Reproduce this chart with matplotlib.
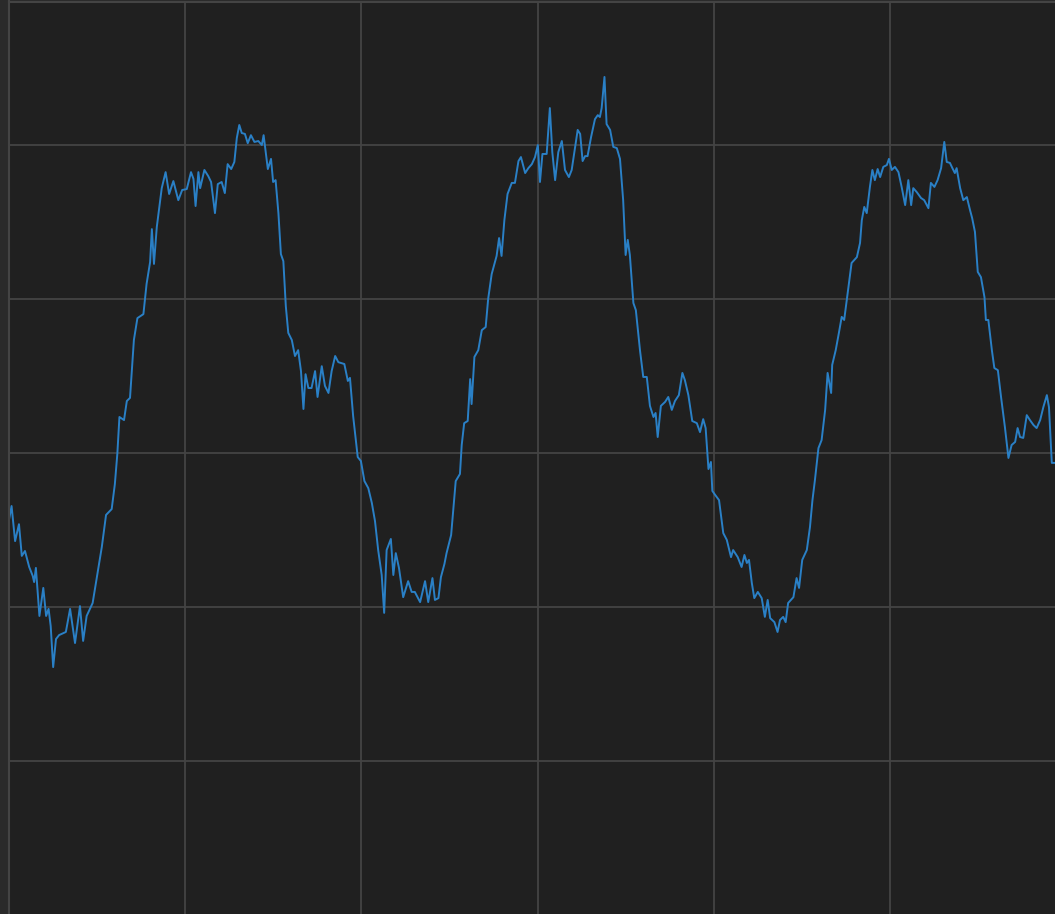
import matplotlib
matplotlib.use("Agg")
import matplotlib.pyplot as plt
from matplotlib.ticker import MultipleLocator

# Sampled signal: time (s) and amplitude
t = [
    0.000, 0.008, 0.018, 0.029, 0.037, 0.046, 0.058, 0.068, 0.072, 0.077,
    0.087, 0.098, 0.106, 0.113, 0.119, 0.126, 0.134, 0.143, 0.162, 0.174,
    0.188, 0.202, 0.211, 0.221, 0.238, 0.251, 0.264, 0.276, 0.292, 0.301,
    0.308, 0.314, 0.327, 0.335, 0.344, 0.355, 0.365, 0.382, 0.391, 0.401,
    0.406, 0.412, 0.420, 0.434, 0.445, 0.455, 0.467,
    0.481, 0.492, 0.505, 0.517, 0.524, 0.530, 0.538, 0.543, 0.555, 0.566,
    0.574, 0.585, 0.593, 0.604, 0.613, 0.621, 0.631, 0.640, 0.647, 0.654,
    0.661, 0.670, 0.678, 0.687, 0.697, 0.708, 0.718, 0.723, 0.735, 0.744,
    0.750, 0.757, 0.765, 0.772, 0.779, 0.786, 0.793, 0.803, 0.812, 0.821,
    0.829, 0.836, 0.842, 0.850, 0.859, 0.869, 0.876, 0.888, 0.897, 0.907,
    0.916, 0.926, 0.935, 0.952, 0.962, 0.968, 0.977, 0.990,
    0.999, 1.009, 1.020, 1.030, 1.039, 1.048, 1.058, 1.065, 1.072, 1.084,
    1.091, 1.098, 1.107, 1.119, 1.133, 1.143, 1.152, 1.167, 1.181, 1.190,
    1.202, 1.209, 1.219, 1.226, 1.236, 1.242, 1.255, 1.261, 1.268, 1.280,
    1.285, 1.292, 1.302, 1.309, 1.313, 1.321, 1.332, 1.342, 1.353, 1.360,
    1.370, 1.384, 1.391, 1.398, 1.406, 1.415, 1.427, 1.436, 1.446, 1.453,
    1.465, 1.474, 1.484, 1.493,
    1.501, 1.507, 1.514, 1.526, 1.535, 1.542, 1.550, 1.559, 1.569, 1.578,
    1.589, 1.597, 1.614, 1.621, 1.628, 1.635, 1.642, 1.652, 1.663, 1.671,
    1.677, 1.682, 1.690, 1.696, 1.706, 1.715, 1.725, 1.734, 1.743, 1.750,
    1.756, 1.762, 1.772, 1.779, 1.791, 1.800, 1.810, 1.819, 1.829, 1.835,
    1.841, 1.850, 1.862, 1.871, 1.881, 1.890, 1.901, 1.911, 1.918, 1.928,
    1.939, 1.952, 1.961, 1.970, 1.977, 1.985, 1.992, 1.996, 2.004,
    2.015, 2.027, 2.037, 2.049, 2.055, 2.068, 2.079, 2.087, 2.094, 2.100,
    2.108, 2.115, 2.125, 2.136, 2.145, 2.153, 2.160, 2.172, 2.181, 2.188,
    2.197, 2.204, 2.211, 2.226, 2.235, 2.242, 2.251, 2.264, 2.273, 2.280,
    2.287, 2.297, 2.306, 2.316, 2.323, 2.333, 2.336, 2.346, 2.355, 2.363,
    2.370, 2.382, 2.391, 2.406, 2.415, 2.420, 2.427, 2.434, 2.443, 2.450,
    2.457, 2.465, 2.472, 2.481, 2.491, 2.497, 2.505, 2.514,
    2.524, 2.533, 2.543, 2.552, 2.560, 2.566, 2.576, 2.588, 2.597, 2.609,
    2.616, 2.626, 2.635, 2.645, 2.654, 2.661, 2.670, 2.677, 2.684, 2.689,
    2.699, 2.708, 2.718, 2.727, 2.733, 2.741, 2.749, 2.758, 2.768, 2.772,
    2.779, 2.789, 2.796, 2.806, 2.815, 2.826, 2.836, 2.845, 2.855, 2.862,
    2.869, 2.878, 2.888, 2.897, 2.907, 2.916, 2.926, 2.935, 2.945, 2.951,
    2.959, 2.968,
]

amplitude = [
    -0.221, -0.172, -0.286, -0.231, -0.334, -0.318, -0.370, -0.399, -0.419, -0.373,
    -0.529, -0.438, -0.529, -0.506, -0.562, -0.695, -0.604, -0.591, -0.581, -0.506,
    -0.617, -0.497, -0.610, -0.529, -0.487, -0.396, -0.305, -0.201, -0.182, -0.101,
    -0.003, 0.117, 0.107, 0.169, 0.179, 0.367, 0.438, 0.451, 0.549, 0.620,
    0.727, 0.614, 0.734, 0.860, 0.912, 0.841, 0.883,
    0.821, 0.854, 0.857, 0.912, 0.890, 0.802, 0.912, 0.860, 0.919, 0.899,
    0.880, 0.779, 0.873, 0.880, 0.844, 0.938, 0.922, 0.945, 1.023, 1.065,
    1.039, 1.036, 1.006, 1.032, 1.010, 1.013, 1.000, 1.032, 0.922, 0.955,
    0.880, 0.886, 0.779, 0.646, 0.623, 0.477, 0.390, 0.367, 0.315, 0.334,
    0.266, 0.143, 0.256, 0.211, 0.211, 0.266, 0.182, 0.282, 0.218, 0.195,
    0.266, 0.315, 0.295, 0.289, 0.234, 0.244, 0.120, -0.013,
    -0.026, -0.091, -0.114, -0.162, -0.221, -0.315, -0.396, -0.519, -0.315, -0.279,
    -0.396, -0.325, -0.373, -0.468, -0.416, -0.451, -0.451, -0.484, -0.416, -0.484,
    -0.406, -0.477, -0.471, -0.403, -0.360, -0.325, -0.266, -0.185, -0.091, -0.068,
    0.026, 0.097, 0.104, 0.240, 0.159, 0.312, 0.334, 0.399, 0.409, 0.500,
    0.581, 0.640, 0.698, 0.640, 0.756, 0.841, 0.877, 0.877, 0.948, 0.961,
    0.909, 0.925, 0.938, 0.961,
    1.000, 0.880, 0.971, 0.971, 1.120, 0.977, 0.886, 0.977, 1.013, 0.919,
    0.896, 0.919, 1.049, 1.036, 0.948, 0.964, 0.964, 1.026, 1.084, 1.097,
    1.091, 1.120, 1.221, 1.068, 1.049, 0.994, 0.990, 0.955, 0.821, 0.643,
    0.692, 0.643, 0.487, 0.464, 0.331, 0.247, 0.247, 0.153, 0.117, 0.130,
    0.052, 0.153, 0.166, 0.182, 0.140, 0.169, 0.188, 0.260, 0.237, 0.188,
    0.104, 0.097, 0.068, 0.110, 0.081, -0.052, -0.029, -0.123, -0.136,
    -0.153, -0.260, -0.282, -0.338, -0.315, -0.338, -0.370, -0.331, -0.357, -0.347,
    -0.422, -0.471, -0.451, -0.471, -0.532, -0.477, -0.536, -0.549, -0.581, -0.542,
    -0.532, -0.549, -0.487, -0.468, -0.406, -0.438, -0.347, -0.315, -0.240, -0.153,
    -0.088, 0.016, 0.042, 0.140, 0.260, 0.195, 0.286, 0.334, 0.390, 0.442,
    0.432, 0.539, 0.617, 0.636, 0.682, 0.756, 0.799, 0.779, 0.864, 0.919,
    0.886, 0.922, 0.896, 0.929, 0.935, 0.955, 0.919, 0.929,
    0.912, 0.864, 0.805, 0.886, 0.805, 0.860, 0.847, 0.828, 0.821, 0.795,
    0.877, 0.864, 0.886, 0.925, 1.010, 0.945, 0.942, 0.925, 0.909, 0.925,
    0.860, 0.821, 0.831, 0.789, 0.763, 0.718, 0.588, 0.571, 0.506, 0.432,
    0.432, 0.334, 0.276, 0.269, 0.182, 0.084, -0.016, 0.026, 0.036, 0.081,
    0.052, 0.049, 0.123, 0.107, 0.091, 0.081, 0.107, 0.149, 0.188, 0.149,
    -0.032, -0.032,
]

W, H = 1055, 914
fig = plt.figure(figsize=(W / 100, H / 100), dpi=100, facecolor="#2a2a2a")

# Plot area reaches past the right and bottom edges of the canvas
x0, x1 = 0.0, 3.1
y0, y1 = -1.6, 1.466
px_per_x = 352.5
px_per_y = 308.0
left_px = 8.75
top_px = 1.5
width_px = (x1 - x0) * px_per_x
height_px = (y1 - y0) * px_per_y
ax = fig.add_axes([left_px / W, 1 - (top_px + height_px) / H,
                   width_px / W, height_px / H])
ax.set_facecolor("#202020")

ax.plot(t, amplitude, color="#2a80c6", linewidth=1.4, solid_joinstyle="round")

ax.set_xlim(x0, x1)
ax.set_ylim(y0, y1)
ax.xaxis.set_major_locator(MultipleLocator(0.5))
ax.yaxis.set_major_locator(MultipleLocator(0.5))
ax.grid(True, color="#444444", linewidth=1.3)
ax.set_axisbelow(True)
ax.tick_params(length=0, labelleft=False, labelbottom=False)
for side in ("left", "top"):
    ax.spines[side].set_color("#444444")
    ax.spines[side].set_linewidth(1.5)
for side in ("right", "bottom"):
    ax.spines[side].set_visible(False)

fig.savefig("out.png", dpi=100, facecolor=fig.get_facecolor())
